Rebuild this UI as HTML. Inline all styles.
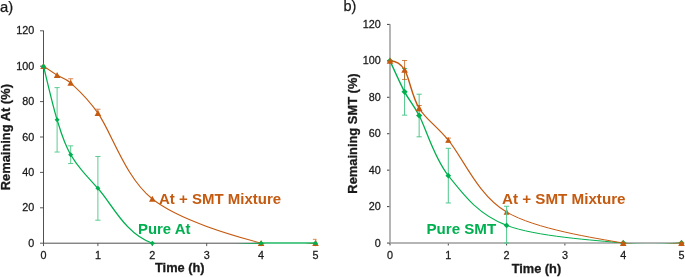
<!DOCTYPE html>
<html><head><meta charset="utf-8"><title>Chart</title>
<style>
html,body{margin:0;padding:0;background:#fff;}
body{width:685px;height:277px;overflow:hidden;font-family:"Liberation Sans",sans-serif;}
svg{display:block;will-change:transform;}
</style></head><body>
<svg width="685" height="277" viewBox="0 0 685 277" font-family="'Liberation Sans', sans-serif">
<rect width="685" height="277" fill="#ffffff"/>
<clipPath id="clipa"><rect x="38.50" y="25.80" width="282.00" height="217.90"/></clipPath>
<g stroke="#5a5a5a" stroke-width="1" fill="none">
<line x1="40.00" y1="243.20" x2="43.50" y2="243.20"/>
<line x1="40.00" y1="207.80" x2="43.50" y2="207.80"/>
<line x1="40.00" y1="172.40" x2="43.50" y2="172.40"/>
<line x1="40.00" y1="137.00" x2="43.50" y2="137.00"/>
<line x1="40.00" y1="101.60" x2="43.50" y2="101.60"/>
<line x1="40.00" y1="66.20" x2="43.50" y2="66.20"/>
<line x1="40.00" y1="30.80" x2="43.50" y2="30.80"/>
<line x1="43.50" y1="243.20" x2="43.50" y2="246.10"/>
<line x1="97.90" y1="243.20" x2="97.90" y2="246.10"/>
<line x1="152.30" y1="243.20" x2="152.30" y2="246.10"/>
<line x1="206.70" y1="243.20" x2="206.70" y2="246.10"/>
<line x1="261.10" y1="243.20" x2="261.10" y2="246.10"/>
<line x1="315.50" y1="243.20" x2="315.50" y2="246.10"/>
</g>
<g stroke="#3c3c3c" stroke-width="0.9" fill="none">
<line x1="43.50" y1="30.60" x2="43.50" y2="243.20"/>
<line x1="43.50" y1="243.20" x2="261.10" y2="243.20"/>
</g>
<text transform="translate(34.30,246.70) scale(1.06,1)" font-size="10.2" fill="#1a1a1a" stroke="#1a1a1a" stroke-width="0.25" text-anchor="end">0</text>
<text transform="translate(34.30,211.30) scale(1.06,1)" font-size="10.2" fill="#1a1a1a" stroke="#1a1a1a" stroke-width="0.25" text-anchor="end">20</text>
<text transform="translate(34.30,175.90) scale(1.06,1)" font-size="10.2" fill="#1a1a1a" stroke="#1a1a1a" stroke-width="0.25" text-anchor="end">40</text>
<text transform="translate(34.30,140.50) scale(1.06,1)" font-size="10.2" fill="#1a1a1a" stroke="#1a1a1a" stroke-width="0.25" text-anchor="end">60</text>
<text transform="translate(34.30,105.10) scale(1.06,1)" font-size="10.2" fill="#1a1a1a" stroke="#1a1a1a" stroke-width="0.25" text-anchor="end">80</text>
<text transform="translate(34.30,69.70) scale(1.06,1)" font-size="10.2" fill="#1a1a1a" stroke="#1a1a1a" stroke-width="0.25" text-anchor="end">100</text>
<text transform="translate(34.30,34.30) scale(1.06,1)" font-size="10.2" fill="#1a1a1a" stroke="#1a1a1a" stroke-width="0.25" text-anchor="end">120</text>
<text transform="translate(43.50,259.20) scale(1.06,1)" font-size="10.2" fill="#1a1a1a" stroke="#1a1a1a" stroke-width="0.25" text-anchor="middle">0</text>
<text transform="translate(97.90,259.20) scale(1.06,1)" font-size="10.2" fill="#1a1a1a" stroke="#1a1a1a" stroke-width="0.25" text-anchor="middle">1</text>
<text transform="translate(152.30,259.20) scale(1.06,1)" font-size="10.2" fill="#1a1a1a" stroke="#1a1a1a" stroke-width="0.25" text-anchor="middle">2</text>
<text transform="translate(206.70,259.20) scale(1.06,1)" font-size="10.2" fill="#1a1a1a" stroke="#1a1a1a" stroke-width="0.25" text-anchor="middle">3</text>
<text transform="translate(261.10,259.20) scale(1.06,1)" font-size="10.2" fill="#1a1a1a" stroke="#1a1a1a" stroke-width="0.25" text-anchor="middle">4</text>
<text transform="translate(315.50,259.20) scale(1.06,1)" font-size="10.2" fill="#1a1a1a" stroke="#1a1a1a" stroke-width="0.25" text-anchor="middle">5</text>
<g stroke="#c55a11" stroke-width="1" fill="none" stroke-opacity="0.7">
<path d="M70.70,78.77 V83.01 M68.10,78.77 H73.30"/>
<path d="M97.90,109.21 V113.10 M95.30,109.21 H100.50"/>
<path d="M315.90,239.31 V243.20 M312.90,239.31 H316.40"/>
</g>
<g clip-path="url(#clipa)"><g fill="none" stroke="#c55a11" stroke-linecap="round" transform="scale(1.25,1)">
<path d="M34.800,66.200 C36.613,67.704 42.053,72.424 45.680,75.227" stroke-width="1.05"/>
<path d="M45.680,75.227 C49.307,78.029 51.966,77.684 56.560,83.015" stroke-width="1.05"/>
<path d="M56.560,83.015 C62.000,89.328 68.982,96.520 78.320,113.105" stroke-width="1.05"/>
<path d="M78.320,113.105 C89.200,132.427 100.080,177.267 121.840,198.950" stroke-width="1.05"/>
<path d="M121.840,198.950 C143.600,220.632 187.120,235.825 208.880,243.200" stroke-width="1.05"/>
<path d="M208.880,243.200 C229.882,250.318 245.147,243.200 252.400,243.200" stroke-width="1.05"/>
</g></g>
<path d="M43.50,63.00 L46.80,69.00 L40.20,69.00 Z" fill="#c55a11"/>
<path d="M57.10,72.03 L60.40,78.03 L53.80,78.03 Z" fill="#c55a11"/>
<path d="M70.70,79.81 L74.00,85.81 L67.40,85.81 Z" fill="#c55a11"/>
<path d="M97.90,109.90 L101.20,115.90 L94.60,115.90 Z" fill="#c55a11"/>
<path d="M152.30,195.75 L155.60,201.75 L149.00,201.75 Z" fill="#c55a11"/>
<path d="M261.10,240.00 L264.40,246.00 L257.80,246.00 Z" fill="#c55a11"/>
<path d="M315.50,240.00 L318.80,246.00 L312.20,246.00 Z" fill="#c55a11"/>
<g stroke="#5ccb93" stroke-width="1" fill="none" stroke-opacity="1">
<path d="M57.10,87.62 V152.04 M54.50,87.62 H59.70 M54.50,152.04 H59.70"/>
<path d="M70.70,145.85 V163.55 M68.10,145.85 H73.30 M68.10,163.55 H73.30"/>
<path d="M97.90,156.47 V220.19 M95.30,156.47 H100.50 M95.30,220.19 H100.50"/>
</g>
<g clip-path="url(#clipa)"><g fill="none" stroke="#00b050" stroke-linecap="round" transform="scale(1.25,1)">
<path d="M34.800,66.200 C36.613,75.138 42.053,105.081 45.680,119.831" stroke-width="1.05"/>
<path d="M45.680,119.831 C49.307,134.581 51.120,143.284 56.560,154.700" stroke-width="1.05"/>
<path d="M56.560,154.700 C62.000,166.116 67.440,173.580 78.320,188.330" stroke-width="1.05"/>
<path d="M78.320,188.330 C89.200,203.080 100.080,234.055 121.840,243.200" stroke-width="1.05"/>
<path d="M121.840,243.200 C143.600,252.345 187.120,243.200 208.880,243.200" stroke-width="1.05"/>
<path d="M208.880,243.200 C230.640,243.200 245.147,243.200 252.400,243.200" stroke-width="1.05"/>
</g></g>
<path d="M43.50,63.70 L46.00,66.20 L43.50,68.70 L41.00,66.20 Z" fill="#00b050"/>
<path d="M57.10,117.33 L59.60,119.83 L57.10,122.33 L54.60,119.83 Z" fill="#00b050"/>
<path d="M70.70,152.20 L73.20,154.70 L70.70,157.20 L68.20,154.70 Z" fill="#00b050"/>
<path d="M97.90,185.83 L100.40,188.33 L97.90,190.83 L95.40,188.33 Z" fill="#00b050"/>
<path d="M152.30,240.70 L154.80,243.20 L152.30,245.70 L149.80,243.20 Z" fill="#00b050"/>
<path d="M261.10,240.70 L263.60,243.20 L261.10,245.70 L258.60,243.20 Z" fill="#00b050"/>
<path d="M315.50,240.70 L318.00,243.20 L315.50,245.70 L313.00,243.20 Z" fill="#00b050"/>
<clipPath id="clipb"><rect x="385.00" y="19.41" width="301.50" height="224.14"/></clipPath>
<g stroke="#404040" stroke-width="1" fill="none">
<line x1="387.00" y1="243.05" x2="390.00" y2="243.05"/>
<line x1="387.00" y1="206.61" x2="390.00" y2="206.61"/>
<line x1="387.00" y1="170.17" x2="390.00" y2="170.17"/>
<line x1="387.00" y1="133.73" x2="390.00" y2="133.73"/>
<line x1="387.00" y1="97.29" x2="390.00" y2="97.29"/>
<line x1="387.00" y1="60.85" x2="390.00" y2="60.85"/>
<line x1="387.00" y1="24.41" x2="390.00" y2="24.41"/>
<line x1="390.00" y1="243.05" x2="390.00" y2="245.45"/>
<line x1="448.30" y1="243.05" x2="448.30" y2="245.45"/>
<line x1="506.60" y1="243.05" x2="506.60" y2="245.45"/>
<line x1="564.90" y1="243.05" x2="564.90" y2="245.45"/>
<line x1="623.20" y1="243.05" x2="623.20" y2="245.45"/>
<line x1="681.50" y1="243.05" x2="681.50" y2="245.45"/>
</g>
<g stroke="#9c9c9c" stroke-width="1.5" fill="none">
<line x1="390.00" y1="24.21" x2="390.00" y2="243.05"/>
<line x1="390.00" y1="243.05" x2="681.50" y2="243.05"/>
</g>
<text transform="translate(380.80,246.55) scale(1.06,1)" font-size="10.2" fill="#1a1a1a" stroke="#1a1a1a" stroke-width="0.25" text-anchor="end">0</text>
<text transform="translate(380.80,210.11) scale(1.06,1)" font-size="10.2" fill="#1a1a1a" stroke="#1a1a1a" stroke-width="0.25" text-anchor="end">20</text>
<text transform="translate(380.80,173.67) scale(1.06,1)" font-size="10.2" fill="#1a1a1a" stroke="#1a1a1a" stroke-width="0.25" text-anchor="end">40</text>
<text transform="translate(380.80,137.23) scale(1.06,1)" font-size="10.2" fill="#1a1a1a" stroke="#1a1a1a" stroke-width="0.25" text-anchor="end">60</text>
<text transform="translate(380.80,100.79) scale(1.06,1)" font-size="10.2" fill="#1a1a1a" stroke="#1a1a1a" stroke-width="0.25" text-anchor="end">80</text>
<text transform="translate(380.80,64.35) scale(1.06,1)" font-size="10.2" fill="#1a1a1a" stroke="#1a1a1a" stroke-width="0.25" text-anchor="end">100</text>
<text transform="translate(380.80,27.91) scale(1.06,1)" font-size="10.2" fill="#1a1a1a" stroke="#1a1a1a" stroke-width="0.25" text-anchor="end">120</text>
<text transform="translate(390.00,259.05) scale(1.06,1)" font-size="10.2" fill="#1a1a1a" stroke="#1a1a1a" stroke-width="0.25" text-anchor="middle">0</text>
<text transform="translate(448.30,259.05) scale(1.06,1)" font-size="10.2" fill="#1a1a1a" stroke="#1a1a1a" stroke-width="0.25" text-anchor="middle">1</text>
<text transform="translate(506.60,259.05) scale(1.06,1)" font-size="10.2" fill="#1a1a1a" stroke="#1a1a1a" stroke-width="0.25" text-anchor="middle">2</text>
<text transform="translate(564.90,259.05) scale(1.06,1)" font-size="10.2" fill="#1a1a1a" stroke="#1a1a1a" stroke-width="0.25" text-anchor="middle">3</text>
<text transform="translate(623.20,259.05) scale(1.06,1)" font-size="10.2" fill="#1a1a1a" stroke="#1a1a1a" stroke-width="0.25" text-anchor="middle">4</text>
<text transform="translate(681.50,259.05) scale(1.06,1)" font-size="10.2" fill="#1a1a1a" stroke="#1a1a1a" stroke-width="0.25" text-anchor="middle">5</text>
<g stroke="#50c78c" stroke-width="1" fill="none" stroke-opacity="1">
<path d="M404.57,68.50 V115.15 M401.97,68.50 H407.18 M401.97,115.15 H407.18"/>
<path d="M419.15,94.19 V136.83 M416.55,94.19 H421.75 M416.55,136.83 H421.75"/>
<path d="M448.30,148.31 V202.97 M445.70,148.31 H450.90 M445.70,202.97 H450.90"/>
<path d="M506.60,206.25 V243.05 M504.00,206.25 H509.20 M504.00,243.05 H509.20"/>
</g>
<g clip-path="url(#clipb)"><g fill="none" stroke="#00b050" stroke-linecap="round" transform="scale(1.0,1)">
<path d="M390.000,60.850 C392.429,66.012 399.717,82.714 404.575,91.824" stroke-width="1.45"/>
<path d="M404.575,91.824 C409.433,100.934 412.718,103.181 419.150,115.510" stroke-width="1.45"/>
<path d="M419.150,115.510 C426.438,129.479 433.725,157.325 448.300,175.636" stroke-width="1.3"/>
<path d="M448.300,175.636 C462.875,193.947 477.450,214.141 506.600,225.377" stroke-width="1.1"/>
<path d="M506.600,225.377 C535.750,236.612 594.050,240.104 623.200,243.050" stroke-width="1.0"/>
<path d="M623.200,243.050 C652.202,245.981 671.783,243.050 681.500,243.050" stroke-width="1.0"/>
</g></g>
<path d="M390.00,57.75 L393.10,60.85 L390.00,63.95 L386.90,60.85 Z" fill="#00b050"/>
<path d="M404.57,88.72 L407.68,91.82 L404.57,94.92 L401.47,91.82 Z" fill="#00b050"/>
<path d="M419.15,112.41 L422.25,115.51 L419.15,118.61 L416.05,115.51 Z" fill="#00b050"/>
<path d="M448.30,172.85 L451.09,175.64 L448.30,178.43 L445.51,175.64 Z" fill="#00b050"/>
<path d="M506.60,222.59 L509.39,225.38 L506.60,228.17 L503.81,225.38 Z" fill="#00b050"/>
<path d="M623.20,239.95 L626.30,243.05 L623.20,246.15 L620.10,243.05 Z" fill="#00b050"/>
<path d="M681.50,239.95 L684.60,243.05 L681.50,246.15 L678.40,243.05 Z" fill="#00b050"/>
<g stroke="#c55a11" stroke-width="1" fill="none" stroke-opacity="0.75">
<path d="M404.57,60.49 V79.43 M401.97,60.49 H407.18 M401.97,79.43 H407.18"/>
<path d="M419.15,105.49 V110.96 M416.55,105.49 H421.75 M416.55,110.96 H421.75"/>
<path d="M448.30,138.10 V142.11 M445.70,138.10 H450.90 M445.70,142.11 H450.90"/>
</g>
<g clip-path="url(#clipb)"><g fill="none" stroke="#c55a11" stroke-linecap="round" transform="scale(1.0,1)">
<path d="M390.000,60.850 C394.000,61.000 400.071,62.641 404.575,69.960" stroke-width="1.5"/>
<path d="M404.575,69.960 C409.433,77.855 411.862,96.531 419.150,108.222" stroke-width="1.45"/>
<path d="M419.150,108.222 C426.438,119.913 434.387,123.584 448.300,140.107" stroke-width="1.3"/>
<path d="M448.300,140.107 C462.875,157.416 477.450,194.919 506.600,212.076" stroke-width="1.15"/>
<path d="M506.600,212.076 C535.750,229.233 594.050,237.888 623.200,243.050" stroke-width="1.0"/>
<path d="M623.200,243.050 C651.903,248.133 671.783,243.050 681.500,243.050" stroke-width="1.0"/>
</g></g>
<path d="M390.00,57.45 L393.30,63.75 L386.70,63.75 Z" fill="#c55a11"/>
<path d="M404.57,66.56 L407.88,72.86 L401.27,72.86 Z" fill="#c55a11"/>
<path d="M419.15,104.82 L422.45,111.12 L415.85,111.12 Z" fill="#c55a11"/>
<path d="M448.30,137.05 L451.27,142.72 L445.33,142.72 Z" fill="#c55a11"/>
<path d="M506.60,209.02 L509.57,214.69 L503.63,214.69 Z" fill="#c55a11"/>
<path d="M623.20,239.65 L626.50,245.95 L619.90,245.95 Z" fill="#c55a11"/>
<path d="M681.50,239.65 L684.80,245.95 L678.20,245.95 Z" fill="#c55a11"/>
<line x1="261.10" y1="242.75" x2="315.50" y2="242.75" stroke="#00b050" stroke-width="1.0" stroke-opacity="0.75"/>
<line x1="506.60" y1="208.88" x2="506.60" y2="215.28" stroke="#5ccb93" stroke-width="1"/>
<text transform="translate(0.00,11.50)" font-size="14.8" fill="#1a1a1a" stroke="#1a1a1a" stroke-width="0.25">a)</text>
<text transform="translate(343.50,11.00)" font-size="14.5" fill="#1a1a1a" stroke="#1a1a1a" stroke-width="0.25">b)</text>
<text transform="translate(179.80,272.10)" font-size="12.8" fill="#1a1a1a" stroke="#1a1a1a" stroke-width="0.3" font-weight="bold" text-anchor="middle">Time (h)</text>
<text transform="translate(536.40,273.20)" font-size="12.8" fill="#1a1a1a" stroke="#1a1a1a" stroke-width="0.3" font-weight="bold" text-anchor="middle">Time (h)</text>
<text transform="translate(10.30,137.20) rotate(-90)" font-size="12.9" fill="#1a1a1a" stroke="#1a1a1a" stroke-width="0.3" font-weight="bold" text-anchor="middle">Remaining At (%)</text>
<text transform="translate(356.60,133.50) rotate(-90)" font-size="12.9" fill="#1a1a1a" stroke="#1a1a1a" stroke-width="0.3" font-weight="bold" text-anchor="middle">Remaining SMT (%)</text>
<text transform="translate(159.00,204.40) scale(1.035,1)" font-size="14.5" fill="#c55a11" font-weight="bold">At + SMT Mixture</text>
<text transform="translate(138.00,234.00) scale(1.03,1)" font-size="14.5" fill="#00b050" font-weight="bold">Pure At</text>
<text transform="translate(502.00,204.40) scale(1.013,1)" font-size="15" fill="#c55a11" font-weight="bold">At + SMT Mixture</text>
<text transform="translate(426.40,234.00) scale(0.997,1)" font-size="15.2" fill="#00b050" font-weight="bold">Pure SMT</text>
</svg>
</body></html>
